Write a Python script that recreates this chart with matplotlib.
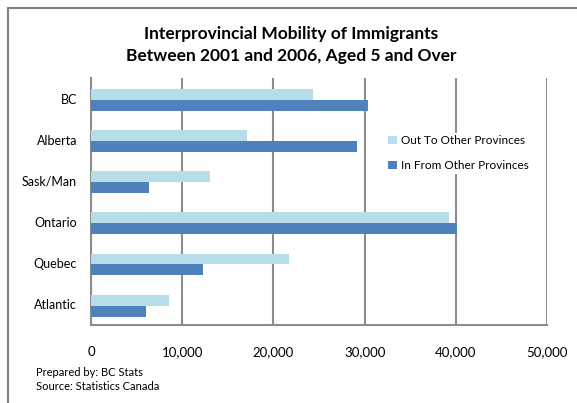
import matplotlib.pyplot as plt
from matplotlib.patches import Rectangle
import numpy as np

plt.rcParams['font.family'] = ['Lato', 'DejaVu Sans']

regions = ['BC', 'Alberta', 'Sask/Man', 'Ontario', 'Quebec', 'Atlantic']
out_to = [24300, 17100, 13100, 39200, 21700, 8500]
in_from = [30400, 29200, 6400, 40100, 12300, 6000]
xticks = [0, 10000, 20000, 30000, 40000, 50000]

light = '#B7DEE8'
dark = '#4F81BD'
grid_c = '#8C8C8C'

fig = plt.figure(figsize=(5.77, 4.03), dpi=100)
# outer chart frame
fig.patches.append(Rectangle((8/577, -0.02), 1.0, 1 - 8/403 + 0.02, transform=fig.transFigure,
                             fill=False, edgecolor='#808080', linewidth=1.5))

ax = fig.add_axes([91/577, 78/403, 456/577, 247/403])

y = np.arange(len(regions))
h = 0.265
ax.barh(y - h/2 + 0.03, out_to, height=h, color=light, label='Out To Other Provinces', zorder=3)
ax.barh(y + h/2 + 0.03, in_from, height=h, color=dark, label='In From Other Provinces', zorder=3)

ax.set_xlim(0, 50000)
ax.set_ylim(len(regions) - 0.5, -0.5)
ax.set_yticks(y)
ax.set_yticklabels(regions, fontsize=9)
ax.set_xticks(xticks)
ax.set_xticklabels(['{:,}'.format(v) for v in xticks], fontsize=9.5)
ax.tick_params(length=0)
ax.tick_params(axis='x', pad=15)
ax.tick_params(axis='y', pad=10)
ax.grid(axis='x', color=grid_c, linewidth=1.5, zorder=0)
for s in ['top', 'right']:
    ax.spines[s].set_visible(False)
for s in ['left', 'bottom']:
    ax.spines[s].set_color(grid_c)
    ax.spines[s].set_linewidth(1.5)

leg = ax.legend(loc='center left', bbox_to_anchor=(386/577, 1 - 153/403), bbox_transform=fig.transFigure,
                frameon=True, fontsize=8.5, handlelength=0.7, handleheight=0.7, handletextpad=0.35,
                labelspacing=1.2, borderpad=0.2, borderaxespad=0, fancybox=False)
leg.get_frame().set_edgecolor('white')
leg.get_frame().set_alpha(1)
leg.set_zorder(5)

fig.text(291/577, 1 - 34/403, 'Interprovincial Mobility of Immigrants', ha='center', va='center',
         fontsize=12.5, fontweight='bold')
fig.text(291/577, 1 - 56/403, 'Between 2001 and 2006, Aged 5 and Over', ha='center', va='center',
         fontsize=12.5, fontweight='bold')

fig.text(36/577, 1 - 372/403, 'Prepared by: BC Stats', fontsize=8, va='center')
fig.text(36/577, 1 - 387/403, 'Source: Statistics Canada', fontsize=8, va='center')

fig.savefig('out.png', dpi=100)
